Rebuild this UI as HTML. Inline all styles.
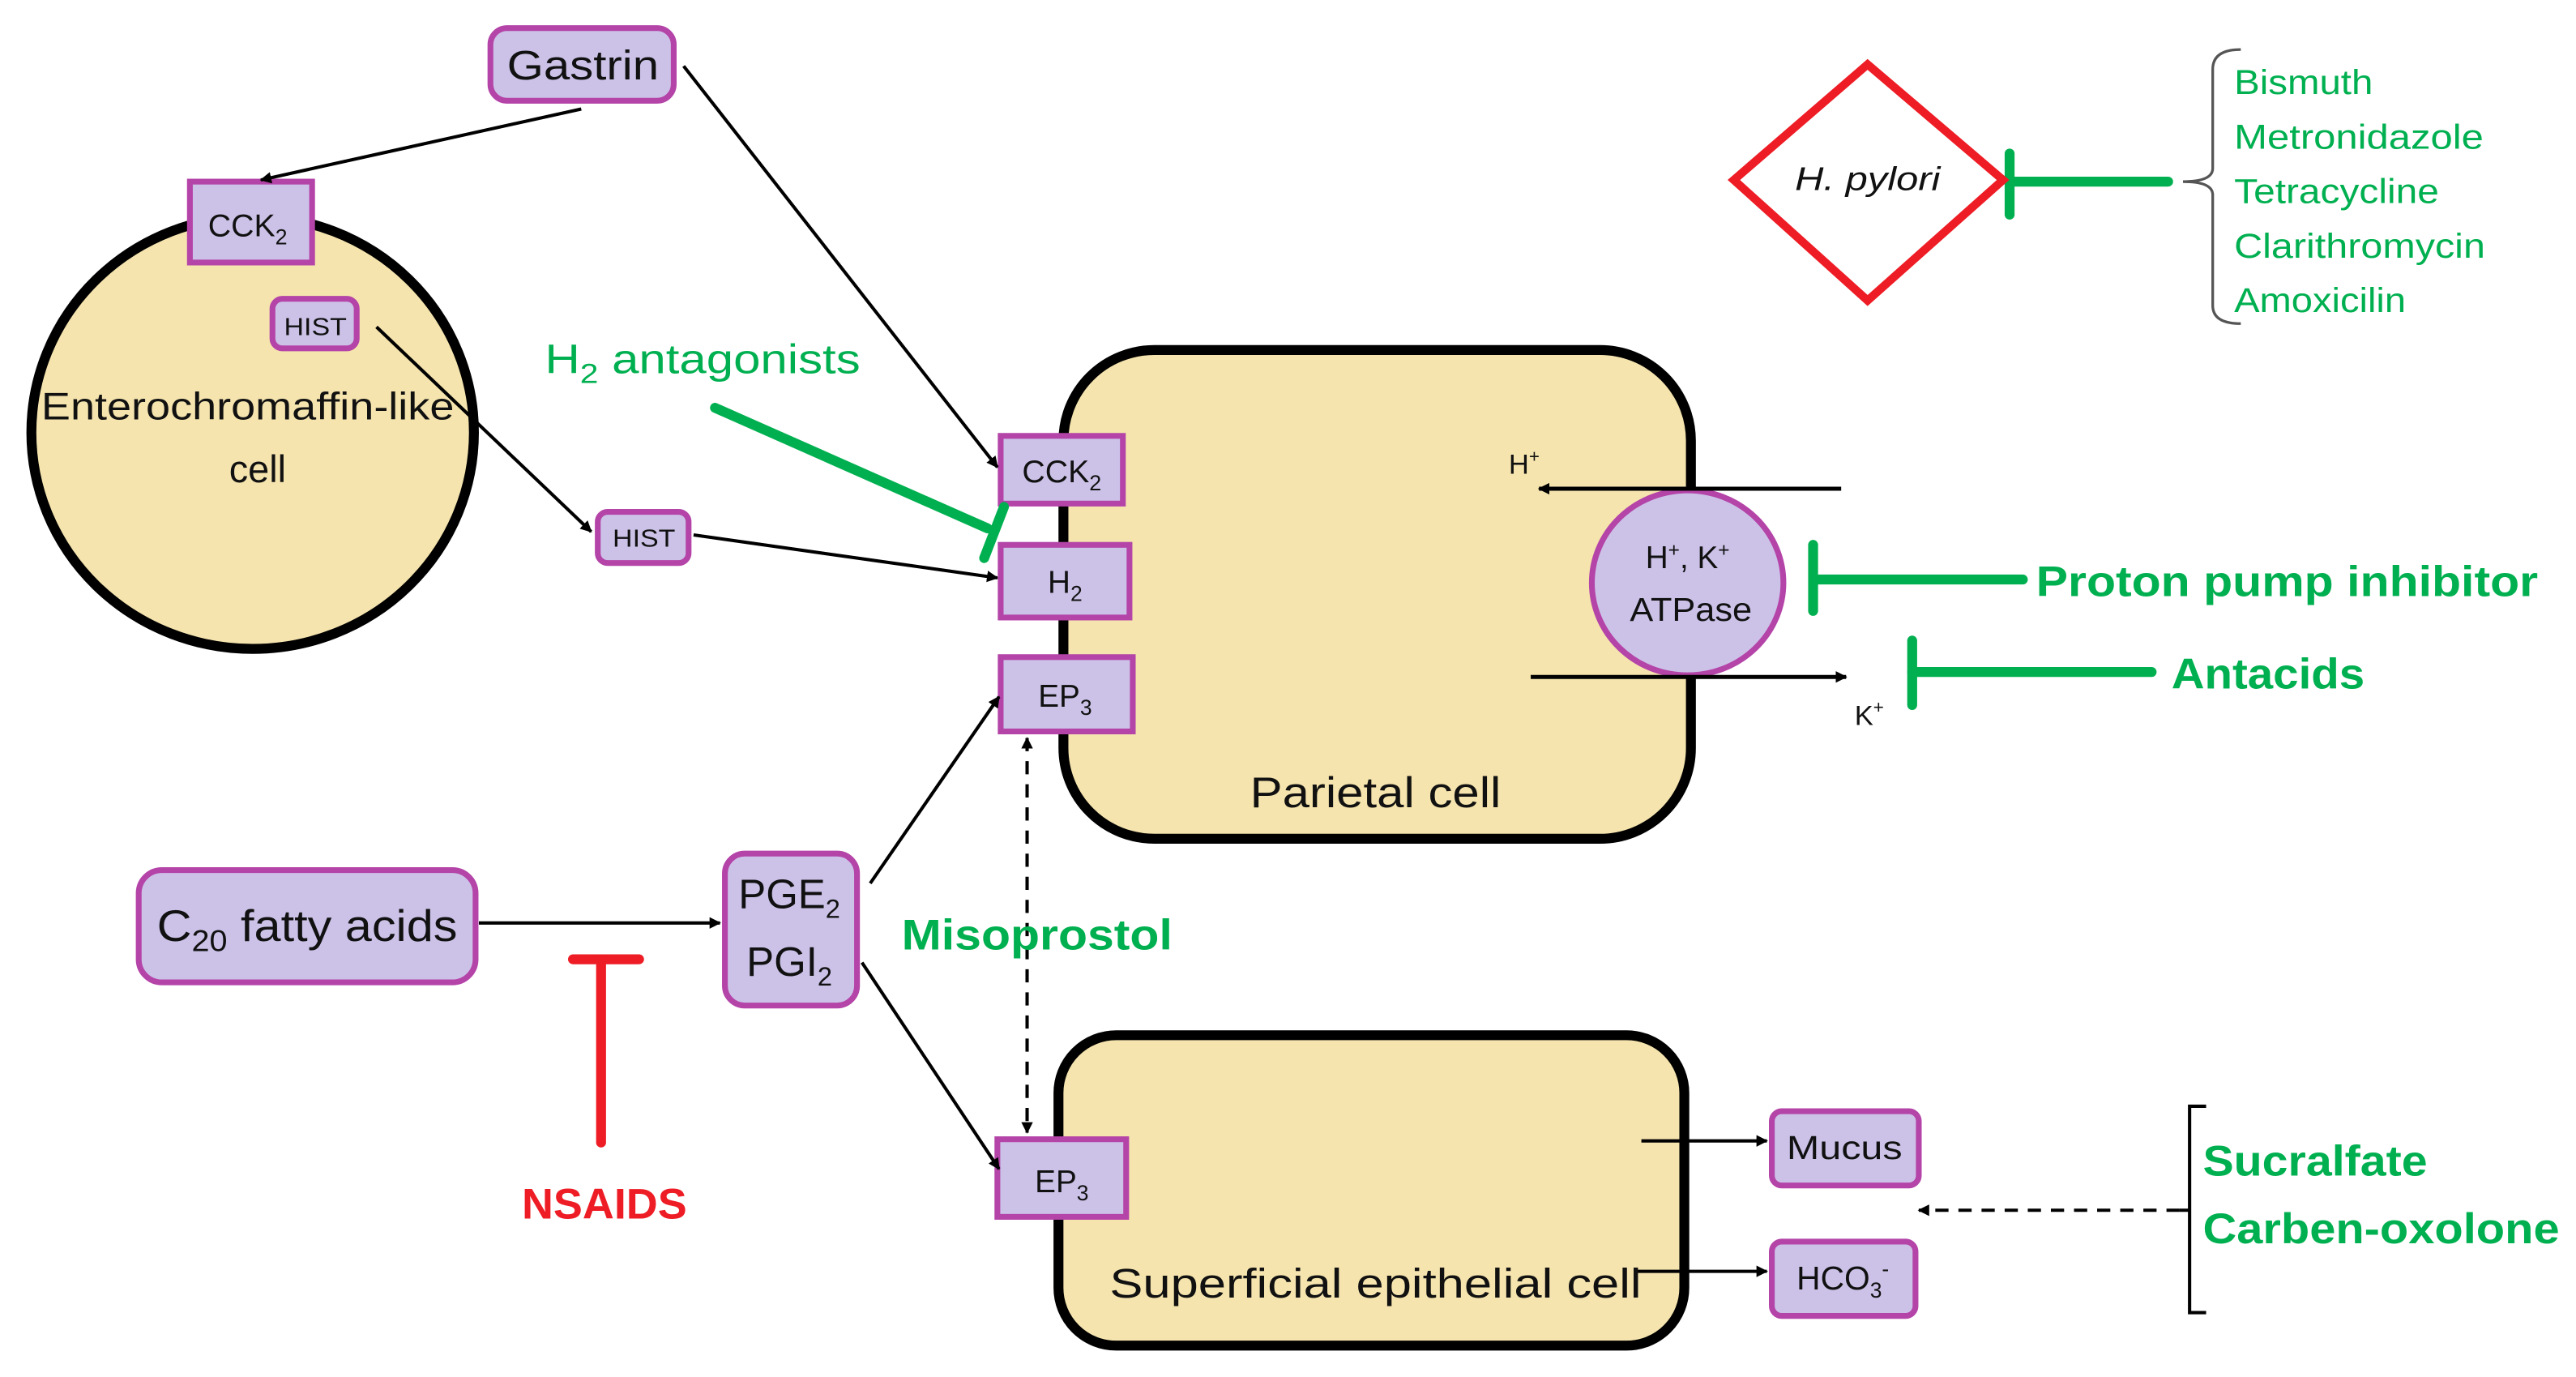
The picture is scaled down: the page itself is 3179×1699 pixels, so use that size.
<!DOCTYPE html>
<html><head><meta charset="utf-8"><style>
html,body{margin:0;padding:0;background:#fff;}
svg{display:block;}
text{font-family:"Liberation Sans",sans-serif;}
</style></head><body>
<svg width="3179" height="1699" viewBox="0 0 1560 834" preserveAspectRatio="none" xmlns="http://www.w3.org/2000/svg">
<defs>
<marker id="a" viewBox="0 0 10 10" refX="9" refY="5" markerWidth="7" markerHeight="7" orient="auto-start-reverse" markerUnits="userSpaceOnUse"><path d="M0,0 L10,5 L0,10 z" fill="#000"/></marker>
</defs>
<g fill="#ccc2e8" stroke="#b444a8" stroke-width="3.5">
</g>
<!-- ECL cell -->
<ellipse cx="153" cy="262" rx="134" ry="131" fill="#f5e4ae" stroke="#000" stroke-width="6"/>
<!-- Parietal cell -->
<rect x="644" y="212" width="380" height="296" rx="55" fill="#f5e4ae" stroke="#000" stroke-width="6"/>
<!-- Superficial cell -->
<rect x="641" y="627" width="379" height="188" rx="35" fill="#f5e4ae" stroke="#000" stroke-width="6"/>

<g fill="#ccc2e8" stroke="#b444a8" stroke-width="3.5">
<rect x="297" y="17" width="111" height="44" rx="10"/>
<rect x="115" y="110" width="74" height="49"/>
<rect x="165" y="181" width="51" height="30" rx="6"/>
<rect x="362" y="310" width="55" height="31" rx="6"/>
<rect x="606" y="264" width="74" height="41"/>
<rect x="606" y="330" width="78" height="44"/>
<rect x="606" y="398" width="80" height="45"/>
<rect x="84" y="527" width="204" height="68" rx="14"/>
<rect x="439" y="517" width="80" height="92" rx="12"/>
<rect x="604" y="690" width="78" height="47"/>
<rect x="1073" y="673" width="89" height="45" rx="6"/>
<rect x="1073" y="752" width="87" height="45" rx="6"/>
<ellipse cx="1022" cy="353" rx="58" ry="56"/>
</g>

<!-- arrows -->
<g stroke="#000" stroke-width="2" fill="none" marker-end="url(#a)">
<line x1="352" y1="66" x2="158" y2="109"/>
<line x1="414" y1="40" x2="604" y2="283"/>
<line x1="228" y1="198" x2="358" y2="322"/>
<line x1="420" y1="324" x2="604" y2="350"/>
<line x1="290" y1="559" x2="436" y2="559"/>
<line x1="527" y1="535" x2="605" y2="422"/>
<line x1="522" y1="583" x2="605" y2="708"/>
<line x1="994" y1="691" x2="1070" y2="691"/>
<line x1="990" y1="770" x2="1070" y2="770"/>
</g>
<g stroke="#000" stroke-width="2.5" fill="none" marker-end="url(#a)">
<line x1="1115" y1="296" x2="932" y2="296"/>
<line x1="927" y1="410" x2="1118" y2="410"/>
</g>
<line x1="622" y1="447" x2="622" y2="686" stroke="#000" stroke-width="2" stroke-dasharray="8,6" marker-start="url(#a)" marker-end="url(#a)"/>
<line x1="1320" y1="733" x2="1162" y2="733" stroke="#000" stroke-width="2" stroke-dasharray="8,6" marker-end="url(#a)"/>

<!-- inhibitors -->
<g stroke="#00b050" stroke-width="6" stroke-linecap="round" fill="none">
<line x1="433" y1="247" x2="598" y2="320"/>
<line x1="608" y1="307" x2="596" y2="338"/>
<line x1="1100" y1="351" x2="1225" y2="351"/>
<line x1="1098" y1="330" x2="1098" y2="370"/>
<line x1="1158" y1="407" x2="1303" y2="407"/>
<line x1="1158" y1="388" x2="1158" y2="427"/>
<line x1="1217" y1="110" x2="1313" y2="110"/>
<line x1="1217" y1="93" x2="1217" y2="130"/>
</g>
<g stroke="#ee1c25" stroke-width="6" stroke-linecap="round">
<line x1="347" y1="581" x2="387" y2="581"/>
<line x1="364" y1="581" x2="364" y2="692"/>
</g>
<polygon points="1131,39 1213,109 1131,182 1050,109" fill="#fff" stroke="#ee1c25" stroke-width="5"/>

<!-- braces -->
<path d="M1357,30 Q1340,30 1340,42 L1340,102 Q1340,110 1322,110 Q1340,110 1340,118 L1340,185 Q1340,196 1357,196" fill="none" stroke="#555" stroke-width="1.6"/>
<path d="M1336,670 L1326,670 L1326,795 L1336,795 M1326,733 L1320,733" fill="none" stroke="#000" stroke-width="2"/>

<!-- texts -->
<g fill="#111" text-anchor="middle">
<text x="353" y="48" font-size="25" textLength="92" lengthAdjust="spacingAndGlyphs">Gastrin</text>
<text x="150" y="143" font-size="19" textLength="48" lengthAdjust="spacingAndGlyphs">CCK<tspan font-size="13" dy="5">2</tspan></text>
<text x="191" y="203" font-size="15" textLength="38" lengthAdjust="spacingAndGlyphs">HIST</text>
<text x="150" y="254" font-size="23" textLength="250" lengthAdjust="spacingAndGlyphs">Enterochromaffin-like</text>
<text x="156" y="292" font-size="23">cell</text>
<text x="390" y="331" font-size="15" textLength="38" lengthAdjust="spacingAndGlyphs">HIST</text>
<text x="643" y="292" font-size="19" textLength="48" lengthAdjust="spacingAndGlyphs">CCK<tspan font-size="13" dy="5">2</tspan></text>
<text x="645" y="359" font-size="19">H<tspan font-size="13" dy="5">2</tspan></text>
<text x="645" y="428" font-size="19">EP<tspan font-size="13" dy="5">3</tspan></text>
<text x="833" y="489" font-size="26" textLength="152" lengthAdjust="spacingAndGlyphs">Parietal cell</text>
<text x="1022" y="344" font-size="19">H<tspan font-size="12" dy="-7">+</tspan><tspan dy="7">, K</tspan><tspan font-size="12" dy="-7">+</tspan></text>
<text x="1024" y="376" font-size="20" textLength="74" lengthAdjust="spacingAndGlyphs">ATPase</text>
<text x="923" y="287" font-size="17">H<tspan font-size="11" dy="-7">+</tspan></text>
<text x="1132" y="439" font-size="17">K<tspan font-size="11" dy="-7">+</tspan></text>
<text x="186" y="570" font-size="27" textLength="182" lengthAdjust="spacingAndGlyphs">C<tspan font-size="18" dy="6">20</tspan><tspan dy="-6"> fatty acids</tspan></text>
<text x="478" y="550" font-size="25">PGE<tspan font-size="16" dy="6">2</tspan></text>
<text x="478" y="591" font-size="25">PGI<tspan font-size="16" dy="6">2</tspan></text>
<text x="643" y="722" font-size="19">EP<tspan font-size="13" dy="5">3</tspan></text>
<text x="833" y="786" font-size="25" textLength="322" lengthAdjust="spacingAndGlyphs">Superficial epithelial cell</text>
<text x="1117" y="702" font-size="20" textLength="70" lengthAdjust="spacingAndGlyphs">Mucus</text>
<text x="1116" y="781" font-size="20">HCO<tspan font-size="13" dy="5">3</tspan><tspan font-size="13" dy="-13">-</tspan></text>
<text x="1131" y="115" font-size="20" font-style="italic" textLength="88" lengthAdjust="spacingAndGlyphs">H. pylori</text>
</g>
<g fill="#00b050">
<text x="330" y="226" font-size="25" textLength="191" lengthAdjust="spacingAndGlyphs">H<tspan font-size="17" dy="6">2</tspan><tspan dy="-6"> antagonists</tspan></text>
<text x="1233" y="361" font-size="26" font-weight="bold" textLength="304" lengthAdjust="spacingAndGlyphs">Proton pump inhibitor</text>
<text x="1315" y="417" font-size="26" font-weight="bold" textLength="117" lengthAdjust="spacingAndGlyphs">Antacids</text>
<text x="546" y="575" font-size="26" font-weight="bold" textLength="164" lengthAdjust="spacingAndGlyphs">Misoprostol</text>
<text x="1334" y="712" font-size="26" font-weight="bold" textLength="136" lengthAdjust="spacingAndGlyphs">Sucralfate</text>
<text x="1334" y="753" font-size="26" font-weight="bold" textLength="216" lengthAdjust="spacingAndGlyphs">Carben-oxolone</text>
<g font-size="21">
<text x="1353" y="57" textLength="84" lengthAdjust="spacingAndGlyphs">Bismuth</text>
<text x="1353" y="90" textLength="151" lengthAdjust="spacingAndGlyphs">Metronidazole</text>
<text x="1353" y="123" textLength="124" lengthAdjust="spacingAndGlyphs">Tetracycline</text>
<text x="1353" y="156" textLength="152" lengthAdjust="spacingAndGlyphs">Clarithromycin</text>
<text x="1353" y="189" textLength="104" lengthAdjust="spacingAndGlyphs">Amoxicilin</text>
</g>
</g>
<text x="366" y="738" font-size="26" font-weight="bold" fill="#ee1c25" text-anchor="middle" textLength="100" lengthAdjust="spacingAndGlyphs">NSAIDS</text>
</svg>
</body></html>
